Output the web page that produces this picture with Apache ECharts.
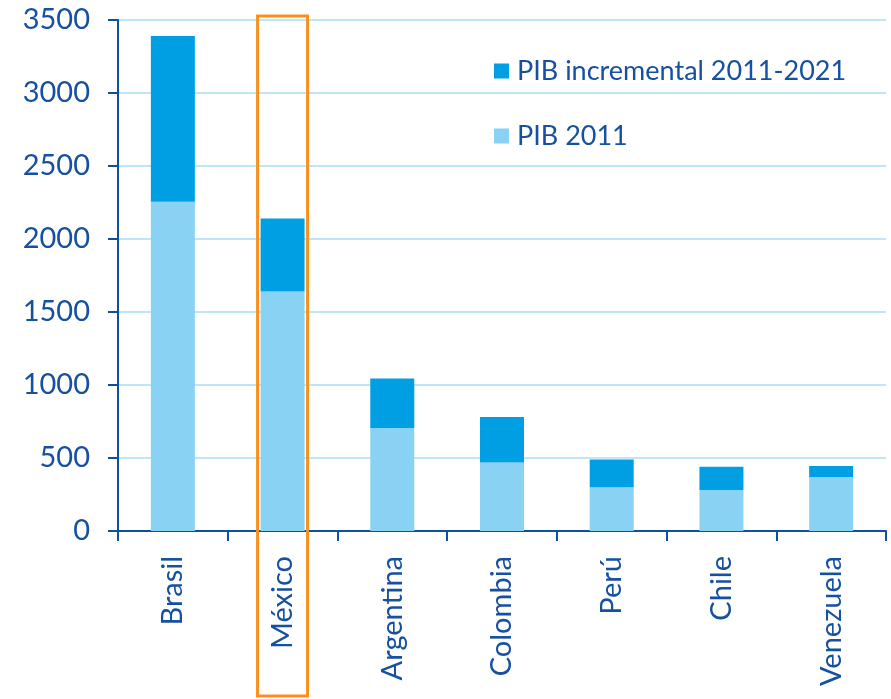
<!DOCTYPE html>
<html>
<head>
<meta charset="utf-8">
<script src="https://cdn.jsdelivr.net/npm/echarts@6/dist/echarts.min.js"></script>
<style>html,body{margin:0;padding:0;background:#fff}#c{width:891px;height:699px}</style>
</head>
<body>
<div id="c"></div>
<script>
const categories = ['Brasil', 'México', 'Argentina', 'Colombia', 'Perú', 'Chile', 'Venezuela'];
const pib2011 = [2255, 1640, 705, 470, 300, 280, 370];
const pibIncremental = [1135, 500, 340, 310, 190, 160, 75];
const yTicks = [0, 500, 1000, 1500, 2000, 2500, 3000, 3500];
const highlighted = 'México';

const axisColor = '#0d4fa0';
const textColor = '#1650a0';
const font = 'Lato';

const chart = echarts.init(document.getElementById('c'));
chart.setOption({
  animation: false,
  grid: { left: 118, right: 5, top: 20, bottom: 168 },
  legend: {
    orient: 'vertical',
    left: 494, top: 56, padding: 0,
    itemWidth: 15, itemHeight: 15, itemGap: 35,
    icon: 'rect',
    data: ['PIB incremental 2011-2021', 'PIB 2011'],
    textStyle: { color: textColor, fontSize: 27, fontFamily: font, padding: [0, 0, 0, 3], lineHeight: 30 }
  },
  xAxis: {
    type: 'category',
    data: categories,
    axisLine: { lineStyle: { color: axisColor, width: 2 } },
    axisTick: { show: true, length: 10, lineStyle: { color: axisColor, width: 2 } },
    axisLabel: { rotate: 90, margin: 25, color: textColor, fontSize: 29, fontFamily: font }
  },
  yAxis: {
    type: 'value',
    min: yTicks[0], max: yTicks[yTicks.length - 1], interval: 500,
    axisLine: { show: true, lineStyle: { color: axisColor, width: 2 } },
    axisTick: { show: true, length: 10, lineStyle: { color: axisColor, width: 2 } },
    splitLine: { lineStyle: { color: '#bfe6f7', width: 2 } },
    axisLabel: { margin: 28, color: textColor, fontSize: 29, fontFamily: font,
      formatter: v => String(v) }
  },
  series: [
    { name: 'PIB 2011', type: 'bar', stack: 'pib', barWidth: 44, data: pib2011,
      itemStyle: { color: '#8ad2f3' } },
    { name: 'PIB incremental 2011-2021', type: 'bar', stack: 'pib', barWidth: 44, data: pibIncremental,
      itemStyle: { color: '#009fe3' } }
  ]
});

const hx = chart.convertToPixel({ xAxisIndex: 0 }, highlighted);
const hTop = chart.convertToPixel({ yAxisIndex: 0 }, yTicks[yTicks.length - 1]);
chart.setOption({
  graphic: [{
    type: 'rect', z: 100,
    shape: { x: hx - 25, y: hTop - 4, width: 50, height: 699 - (hTop - 4) - 3 },
    style: { fill: 'none', stroke: '#f7901e', lineWidth: 3 }
  }]
});
</script>
</body>
</html>
